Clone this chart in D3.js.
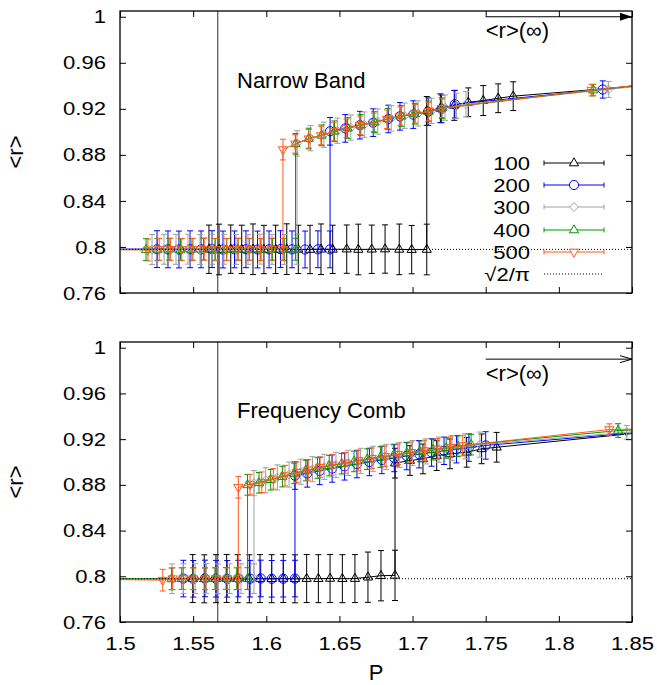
<!DOCTYPE html>
<html>
<head>
<meta charset="utf-8">
<script src="https://cdn.jsdelivr.net/npm/d3@7"></script>
<style>
  body { margin: 0; background: #fff; }
  text { font-family: "Liberation Sans", Arial, Helvetica, sans-serif; fill: #000; }
</style>
</head>
<body>
<svg id="chart" width="657" height="685"></svg>
<script>
// ---------- axis ticks and labels ----------
const pTicks = [1.5, 1.55, 1.6, 1.65, 1.7, 1.75, 1.8, 1.85];
const rTicks = [0.76, 0.8, 0.84, 0.88, 0.92, 0.96, 1];
const sizeLabels = ["100", "200", "300", "400", "500"];
const panelTitles = ["Narrow Band", "Frequency Comb"];
const gaussianMean = Math.sqrt(2 / Math.PI);   // <r> of uncorrelated levels
const criticalP = 1.5668;                       // vertical marker line
const limitArrowP = [1.75, 1.85];               // <r>(inf) arrow span
const limitArrowR = [1.0, 0.99];                // arrow height in each panel

// ---------- Narrow Band: P, <r>, error for each system size ----------
const narrow100P = [1.45, 1.5608, 1.5677, 1.5757, 1.5832, 1.5909, 1.5984, 1.6064, 1.6140, 1.6219, 1.6299, 1.6374, 1.6454, 1.6550, 1.6629, 1.6721, 1.6812, 1.6909, 1.6994, 1.7097,
  1.7097, 1.7190, 1.7285, 1.7381, 1.7483, 1.7585, 1.7688, 1.9000];
const narrow100R = [0.7979, 0.7980, 0.7978, 0.7981, 0.7979, 0.7980, 0.7978, 0.7979, 0.7981, 0.7979, 0.7978, 0.7980, 0.7979, 0.7981, 0.7978, 0.7980, 0.7982, 0.7979, 0.7977, 0.7978,
  0.9182, 0.9205, 0.9230, 0.9257, 0.9272, 0.9292, 0.9310, 0.9446];
const narrow100E = [0, 0.021, 0.022, 0.021, 0.021, 0.022, 0.021, 0.021, 0.022, 0.021, 0.021, 0.022, 0.021, 0.021, 0.022, 0.021, 0.021, 0.022, 0.021, 0.022,
  0.0125, 0.0125, 0.013, 0.0125, 0.013, 0.0125, 0.0125, 0];

const narrow200P = [1.45, 1.5253, 1.5328, 1.5403, 1.5479, 1.5554, 1.5629, 1.5704, 1.5783, 1.5861, 1.5940, 1.6019, 1.6097, 1.6176, 1.6265, 1.6353, 1.6436,
  1.6436, 1.6540, 1.6640, 1.6731, 1.6834, 1.6914, 1.7005, 1.7107, 1.7198, 1.7289, 1.8300, 1.9000];
const narrow200R = [0.7979, 0.7981, 0.7979, 0.7978, 0.7980, 0.7979, 0.7981, 0.7978, 0.7979, 0.7980, 0.7978, 0.7979, 0.7981, 0.7979, 0.7978, 0.7980, 0.7979,
  0.9005, 0.9030, 0.9058, 0.9080, 0.9112, 0.9135, 0.9150, 0.9175, 0.9200, 0.9240, 0.9368, 0.9466];
const narrow200E = [0, 0.016, 0.016, 0.016, 0.016, 0.016, 0.016, 0.016, 0.016, 0.016, 0.016, 0.016, 0.016, 0.016, 0.016, 0.016, 0.016,
  0.012, 0.012, 0.012, 0.012, 0.012, 0.012, 0.012, 0.012, 0.012, 0.012, 0.0075, 0];

const narrow300P = [1.45, 1.5219, 1.5301, 1.5383, 1.5465, 1.5547, 1.5629, 1.5711, 1.5793, 1.5875, 1.5957, 1.6039, 1.6124, 1.6210,
  1.6210, 1.6302, 1.6394, 1.6486, 1.6578, 1.6670, 1.6762, 1.6854, 1.6946, 1.7038, 1.7130, 1.7222, 1.7300, 1.7365, 1.8340, 1.9000];
const narrow300R = [0.7979, 0.7978, 0.7980, 0.7979, 0.7981, 0.7978, 0.7979, 0.7980, 0.7978, 0.7979, 0.7981, 0.7979, 0.7978, 0.7980,
  0.8900, 0.8945, 0.8975, 0.9010, 0.9037, 0.9063, 0.9090, 0.9117, 0.9140, 0.9160, 0.9182, 0.9210, 0.9225, 0.9240, 0.9368, 0.9466];
const narrow300E = [0, 0.013, 0.013, 0.013, 0.013, 0.013, 0.013, 0.013, 0.013, 0.013, 0.013, 0.013, 0.013, 0.013,
  0.011, 0.011, 0.011, 0.011, 0.011, 0.011, 0.011, 0.011, 0.011, 0.011, 0.011, 0.011, 0.011, 0.011, 0.007, 0];

const narrow400P = [1.45, 1.5178, 1.5256, 1.5335, 1.5414, 1.5492, 1.5571, 1.5649, 1.5728, 1.5807, 1.5885, 1.5964, 1.6042, 1.6121, 1.6200,
  1.6200, 1.6290, 1.6378, 1.6466, 1.6556, 1.6646, 1.6738, 1.6830, 1.6922, 1.7015, 1.7108, 1.7200, 1.8235, 1.9000];
const narrow400R = [0.7979, 0.7977, 0.7979, 0.7980, 0.7978, 0.7979, 0.7981, 0.7979, 0.7978, 0.7980, 0.7979, 0.7978, 0.7980, 0.7979, 0.7980,
  0.8896, 0.8942, 0.8970, 0.9005, 0.9033, 0.9060, 0.9085, 0.9112, 0.9138, 0.9158, 0.9178, 0.9205, 0.9363, 0.9468];
const narrow400E = [0, 0.0095, 0.0095, 0.0095, 0.0095, 0.0095, 0.0095, 0.0095, 0.0095, 0.0095, 0.0095, 0.0095, 0.0095, 0.0095, 0.0095,
  0.009, 0.009, 0.009, 0.009, 0.009, 0.009, 0.009, 0.009, 0.009, 0.009, 0.009, 0.009, 0.005, 0];

const narrow500P = [1.45, 1.5191, 1.5268, 1.5345, 1.5422, 1.5499, 1.5576, 1.5653, 1.5730, 1.5807, 1.5884, 1.5960, 1.6037, 1.6114,
  1.6114, 1.6198, 1.6290, 1.6374, 1.6460, 1.6548, 1.6640, 1.6734, 1.6825, 1.6916, 1.7018, 1.7110, 1.7200, 1.8224, 1.9000];
const narrow500R = [0.7979, 0.7974, 0.7979, 0.7980, 0.7978, 0.7979, 0.7981, 0.7979, 0.7978, 0.7980, 0.7979, 0.7978, 0.7980, 0.7979,
  0.8846, 0.8896, 0.8940, 0.8968, 0.9003, 0.9030, 0.9057, 0.9083, 0.9110, 0.9138, 0.9157, 0.9177, 0.9205, 0.9362, 0.9470];
const narrow500E = [0, 0.0095, 0.0095, 0.0095, 0.0095, 0.0095, 0.0095, 0.0095, 0.0095, 0.0095, 0.0095, 0.0095, 0.0095, 0.0095,
  0.009, 0.008, 0.008, 0.008, 0.008, 0.008, 0.008, 0.008, 0.008, 0.008, 0.008, 0.008, 0.008, 0.005, 0];

// ---------- Frequency Comb: P, <r>, error for each system size ----------
const comb100P = [1.45, 1.5497, 1.5576, 1.5656, 1.5729, 1.5805, 1.5884, 1.5957, 1.6037, 1.6116, 1.6196, 1.6276, 1.6356, 1.6436, 1.6520, 1.6606, 1.6695, 1.6784, 1.6880,
  1.6880, 1.6982, 1.7071, 1.7165, 1.7256, 1.7370, 1.7472, 1.7575, 1.8600];
const comb100R = [0.7979, 0.7980, 0.7978, 0.7979, 0.7981, 0.7979, 0.7978, 0.7980, 0.7979, 0.7981, 0.7978, 0.7980, 0.7979, 0.7981, 0.7979, 0.7980, 0.7992, 0.8005, 0.8008,
  0.8990, 0.9013, 0.9027, 0.9056, 0.9071, 0.9085, 0.9115, 0.9129, 0.9262];
const comb100E = [0, 0.021, 0.021, 0.021, 0.021, 0.021, 0.021, 0.021, 0.021, 0.021, 0.021, 0.021, 0.021, 0.021, 0.021, 0.021, 0.022, 0.022, 0.022,
  0.013, 0.013, 0.013, 0.013, 0.013, 0.013, 0.013, 0.013, 0];

const comb200P = [1.45, 1.5433, 1.5501, 1.5581, 1.5656, 1.5733, 1.5809, 1.5889, 1.5962, 1.6037, 1.6116, 1.6196,
  1.6196, 1.6280, 1.6365, 1.6450, 1.6535, 1.6620, 1.6705, 1.6790, 1.6875, 1.6960, 1.7045, 1.7130, 1.7215, 1.7300, 1.7385, 1.7500, 1.8600];
const comb200R = [0.7979, 0.7980, 0.7978, 0.7981, 0.7979, 0.7978, 0.7980, 0.7979, 0.7981, 0.7978, 0.7979, 0.7980,
  0.8881, 0.8900, 0.8922, 0.8943, 0.8962, 0.8982, 0.9000, 0.9018, 0.9035, 0.9052, 0.9068, 0.9083, 0.9098, 0.9112, 0.9126, 0.9145, 0.9265];
const comb200E = [0, 0.016, 0.016, 0.016, 0.016, 0.016, 0.016, 0.016, 0.016, 0.016, 0.016, 0.016,
  0.012, 0.012, 0.012, 0.012, 0.012, 0.012, 0.012, 0.012, 0.012, 0.012, 0.012, 0.012, 0.012, 0.012, 0.012, 0.012, 0];

const comb300P = [1.45, 1.5355, 1.5434, 1.5513, 1.5591, 1.5670, 1.5749, 1.5827, 1.5916,
  1.5916, 1.5996, 1.6076, 1.6156, 1.6236, 1.6316, 1.6396, 1.6476, 1.6560, 1.6645, 1.6730, 1.6820, 1.6910, 1.7000, 1.7090, 1.7180, 1.7270, 1.7360, 1.7460, 1.8464, 1.9000];
const comb300R = [0.7979, 0.7978, 0.7980, 0.7979, 0.7981, 0.7978, 0.7979, 0.7980, 0.7979,
  0.8815, 0.8840, 0.8865, 0.8890, 0.8915, 0.8937, 0.8957, 0.8975, 0.8992, 0.9010, 0.9028, 0.9045, 0.9062, 0.9078, 0.9093, 0.9108, 0.9122, 0.9137, 0.9152, 0.9260, 0.9290];
const comb300E = [0, 0.013, 0.013, 0.013, 0.013, 0.013, 0.013, 0.013, 0.013,
  0.011, 0.011, 0.011, 0.011, 0.011, 0.011, 0.011, 0.011, 0.011, 0.011, 0.011, 0.011, 0.011, 0.011, 0.011, 0.011, 0.011, 0.011, 0.011, 0.006, 0];

const comb400P = [1.45, 1.5353, 1.5422, 1.5501, 1.5581, 1.5649, 1.5725, 1.5798, 1.5872,
  1.5872, 1.5950, 1.6030, 1.6110, 1.6190, 1.6270, 1.6350, 1.6430, 1.6515, 1.6600, 1.6690, 1.6780, 1.6870, 1.6960, 1.7050, 1.7140, 1.7230, 1.7310, 1.7400, 1.8405, 1.9000];
const comb400R = [0.7979, 0.7977, 0.7979, 0.7980, 0.7978, 0.7979, 0.7981, 0.7979, 0.7980,
  0.8800, 0.8818, 0.8845, 0.8872, 0.8900, 0.8925, 0.8947, 0.8968, 0.8985, 0.9005, 0.9025, 0.9043, 0.9060, 0.9078, 0.9093, 0.9108, 0.9123, 0.9138, 0.9152, 0.9275, 0.9310];
const comb400E = [0, 0.0095, 0.0095, 0.0095, 0.0095, 0.0095, 0.0095, 0.0095, 0.0095,
  0.009, 0.009, 0.009, 0.009, 0.009, 0.009, 0.009, 0.009, 0.009, 0.009, 0.009, 0.009, 0.009, 0.009, 0.009, 0.009, 0.009, 0.009, 0.009, 0.006, 0];

const comb500P = [1.45, 1.5292, 1.5360, 1.5433, 1.5501, 1.5581, 1.5656, 1.5733, 1.5809,
  1.5809, 1.5889, 1.5969, 1.6048, 1.6128, 1.6208, 1.6287, 1.6367, 1.6447, 1.6538, 1.6629, 1.6721, 1.6810, 1.6900, 1.6990, 1.7080, 1.7170, 1.7260, 1.7340, 1.8345, 1.9000];
const comb500R = [0.7979, 0.7966, 0.7979, 0.7980, 0.7978, 0.7979, 0.7981, 0.7979, 0.7980,
  0.8779, 0.8803, 0.8823, 0.8852, 0.8881, 0.8910, 0.8931, 0.8954, 0.8975, 0.8992, 0.9013, 0.9033, 0.9050, 0.9068, 0.9085, 0.9100, 0.9115, 0.9130, 0.9144, 0.9284, 0.9300];
const comb500E = [0, 0.0095, 0.0095, 0.0095, 0.0095, 0.0095, 0.0095, 0.0095, 0.0095,
  0.0095, 0.009, 0.009, 0.009, 0.009, 0.009, 0.009, 0.009, 0.009, 0.009, 0.009, 0.009, 0.009, 0.009, 0.009, 0.009, 0.009, 0.009, 0.009, 0.005, 0];

const narrowSeries = [
  [narrow100P, narrow100R, narrow100E], [narrow200P, narrow200R, narrow200E], [narrow300P, narrow300R, narrow300E],
  [narrow400P, narrow400R, narrow400E], [narrow500P, narrow500R, narrow500E]];
const combSeries = [
  [comb100P, comb100R, comb100E], [comb200P, comb200R, comb200E], [comb300P, comb300R, comb300E],
  [comb400P, comb400R, comb400E], [comb500P, comb500R, comb500E]];

// ---------- styling ----------
const seriesColors = ["#000000", "#0000ff", "#a0a0a0", "#009a00", "#ff5a1e"];
const seriesShapes = ["up", "circle", "diamond", "up", "down"];
const fontSize = 22;      // titles and words
const numSize = 19;       // numerals, drawn slightly widened
const numStretch = 1.16;

// widen numeric labels horizontally while keeping their anchor
function widen(sel) {
  sel.each(function () {
    const len = this.getComputedTextLength();
    if (len > 0) d3.select(this).attr("textLength", len * numStretch).attr("lengthAdjust", "spacingAndGlyphs");
  });
}

const svg = d3.select("#chart");
const x = d3.scaleLinear().domain([1.5, 1.85]).range([120, 632]);
const panels = [
  { top: 11, bottom: 293, series: narrowSeries, title: panelTitles[0], xLabels: false, filledHead: true },
  { top: 342, bottom: 622, series: combSeries, title: panelTitles[1], xLabels: true, filledHead: false }
];

function markerPath(shape) {
  switch (shape) {
    case "up": return "M0,-5.2L4.6,2.8L-4.6,2.8Z";
    case "down": return "M0,5.2L4.6,-2.8L-4.6,-2.8Z";
    case "diamond": return "M0,-4.4L4.4,0L0,4.4L-4.4,0Z";
    default: return d3.symbol(d3.symbolCircle, Math.PI * 4.6 * 4.6)();
  }
}

const defs = svg.append("defs");
defs.append("marker")
  .attr("id", "headFilled").attr("viewBox", "0 0 12 8").attr("refX", 12).attr("refY", 4)
  .attr("markerWidth", 12).attr("markerHeight", 8).attr("markerUnits", "userSpaceOnUse").attr("orient", "auto")
  .append("path").attr("d", "M0,0L12,4L0,8Z").attr("fill", "#000");
defs.append("marker")
  .attr("id", "headOpen").attr("viewBox", "0 0 12 8").attr("refX", 12).attr("refY", 4)
  .attr("markerWidth", 12).attr("markerHeight", 8).attr("markerUnits", "userSpaceOnUse").attr("orient", "auto")
  .append("path").attr("d", "M0,0.5L12,4L0,7.5").attr("fill", "none").attr("stroke", "#000").attr("stroke-width", 1);

panels.forEach((pan, pi) => {
  const y = d3.scaleLinear().domain([0.76, 1.005]).range([pan.bottom, pan.top]);
  const g = svg.append("g");
  const clipId = "clip" + pi;
  g.append("clipPath").attr("id", clipId).append("rect")
    .attr("x", x.range()[0]).attr("y", pan.top)
    .attr("width", x.range()[1] - x.range()[0]).attr("height", pan.bottom - pan.top);

  // vertical marker line
  g.append("line")
    .attr("x1", x(criticalP)).attr("x2", x(criticalP)).attr("y1", pan.top).attr("y2", pan.bottom)
    .attr("stroke", "#505050").attr("stroke-width", 1.2);

  const plot = g.append("g").attr("clip-path", `url(#${clipId})`);

  pan.series.forEach(([P, R, E], si) => {
    if (P.length !== R.length || P.length !== E.length) throw new Error("length mismatch " + pi + "/" + si);
    const color = seriesColors[si];
    const pts = P.map((p, i) => ({ p, r: R[i], e: E[i] }));
    const sg = plot.append("g");
    sg.append("path").datum(pts)
      .attr("d", d3.line().x(d => x(d.p)).y(d => y(d.r)))
      .attr("fill", "none").attr("stroke", color).attr("stroke-width", 1);
    const bars = sg.selectAll("g.bar").data(pts.filter(d => d.e > 0)).join("g").attr("class", "bar");
    bars.append("line")
      .attr("x1", d => x(d.p)).attr("x2", d => x(d.p))
      .attr("y1", d => y(d.r - d.e)).attr("y2", d => y(d.r + d.e))
      .attr("stroke", color).attr("stroke-width", 1);
    [-1, 1].forEach(s => {
      bars.append("line")
        .attr("x1", d => x(d.p) - 3).attr("x2", d => x(d.p) + 3)
        .attr("y1", d => y(d.r + s * d.e)).attr("y2", d => y(d.r + s * d.e))
        .attr("stroke", color).attr("stroke-width", 1);
    });
    sg.selectAll("path.pt").data(pts.filter(d => d.e > 0)).join("path").attr("class", "pt")
      .attr("d", markerPath(seriesShapes[si]))
      .attr("transform", d => `translate(${x(d.p)},${y(d.r)})`)
      .attr("fill", "none").attr("stroke", color).attr("stroke-width", 1);
  });

  // sqrt(2/pi) reference
  plot.append("line")
    .attr("x1", x.range()[0]).attr("x2", x.range()[1])
    .attr("y1", y(gaussianMean)).attr("y2", y(gaussianMean))
    .attr("stroke", "#000").attr("stroke-width", 1).attr("stroke-dasharray", "1,2");

  // axes with inward ticks on all four sides
  const left = g.append("g").attr("transform", `translate(${x.range()[0]},0)`)
    .call(d3.axisLeft(y).tickValues(rTicks).tickSize(-6).tickPadding(14).tickFormat(d3.format("")));
  const right = g.append("g").attr("transform", `translate(${x.range()[1]},0)`)
    .call(d3.axisRight(y).tickValues(rTicks).tickSize(-6).tickFormat(""));
  const bottom = g.append("g").attr("transform", `translate(0,${pan.bottom})`)
    .call(d3.axisBottom(x).tickValues(pTicks).tickSize(-6).tickPadding(15)
      .tickFormat(pan.xLabels ? d3.format("") : ""));
  const topAx = g.append("g").attr("transform", `translate(0,${pan.top})`)
    .call(d3.axisTop(x).tickValues(pTicks).tickSize(-6).tickFormat(""));
  [left, right, bottom, topAx].forEach(a => {
    a.select(".domain").remove();
    a.selectAll(".tick line").attr("stroke", "#000").attr("stroke-width", 1);
    a.selectAll("text").attr("font-size", numSize).attr("font-family", null).attr("fill", "#000").call(widen);
  });
  // no tick marks above the frame
  left.selectAll(".tick").filter(d => y(d) < pan.top).select("line").remove();
  right.selectAll(".tick").filter(d => y(d) < pan.top).select("line").remove();

  // frame
  g.append("rect")
    .attr("x", x.range()[0]).attr("y", pan.top)
    .attr("width", x.range()[1] - x.range()[0]).attr("height", pan.bottom - pan.top)
    .attr("fill", "none").attr("stroke", "#000").attr("stroke-width", 1.3);

  // y label
  g.append("text")
    .attr("transform", `translate(15,${(pan.top + pan.bottom) / 2}) rotate(-90)`)
    .attr("text-anchor", "middle").attr("dy", "0.35em")
    .attr("font-size", fontSize).text("<r>");

  // panel title
  g.append("text").attr("x", 237).attr("y", y(0.945)).attr("dy", "0.35em")
    .attr("font-size", fontSize).text(pan.title);

  // <r>(inf) arrow
  g.append("line")
    .attr("x1", x(limitArrowP[0])).attr("x2", x(limitArrowP[1]))
    .attr("y1", y(limitArrowR[pi])).attr("y2", y(limitArrowR[pi]))
    .attr("stroke", "#000").attr("stroke-width", 1)
    .attr("marker-end", pan.filledHead ? "url(#headFilled)" : "url(#headOpen)");
  g.append("text").attr("x", x(limitArrowP[0])).attr("y", y(limitArrowR[pi]) + 14).attr("dy", "0.35em")
    .attr("font-size", fontSize).text("<r>(\u221E)");
});

// x label
svg.append("text").attr("x", 376).attr("y", 680)
  .attr("text-anchor", "middle").attr("font-size", fontSize).text("P");

// legend in the upper panel
const legend = svg.append("g");
const legendRows = [163, 185, 207, 230, 252];
sizeLabels.forEach((lab, i) => {
  const yy = legendRows[i], c = seriesColors[i];
  legend.append("text").attr("x", 530).attr("y", yy).attr("dy", "0.35em")
    .attr("text-anchor", "end").attr("font-size", numSize).text(lab).call(widen);
  legend.append("line").attr("x1", 544).attr("x2", 604).attr("y1", yy).attr("y2", yy)
    .attr("stroke", c).attr("stroke-width", 1);
  [544, 604].forEach(xx => legend.append("line").attr("x1", xx).attr("x2", xx)
    .attr("y1", yy - 2.5).attr("y2", yy + 2.5).attr("stroke", c).attr("stroke-width", 1));
  legend.append("path").attr("d", markerPath(seriesShapes[i]))
    .attr("transform", `translate(574,${yy})`)
    .attr("fill", "#fff").attr("stroke", c).attr("stroke-width", 1);
});
legend.append("text").attr("x", 530).attr("y", 274).attr("dy", "0.35em")
  .attr("text-anchor", "end").attr("font-size", numSize).text("\u221A2/\u03C0").call(widen);
legend.append("line").attr("x1", 544).attr("x2", 604).attr("y1", 274).attr("y2", 274)
  .attr("stroke", "#000").attr("stroke-width", 1).attr("stroke-dasharray", "1,2");
</script>
</body>
</html>
